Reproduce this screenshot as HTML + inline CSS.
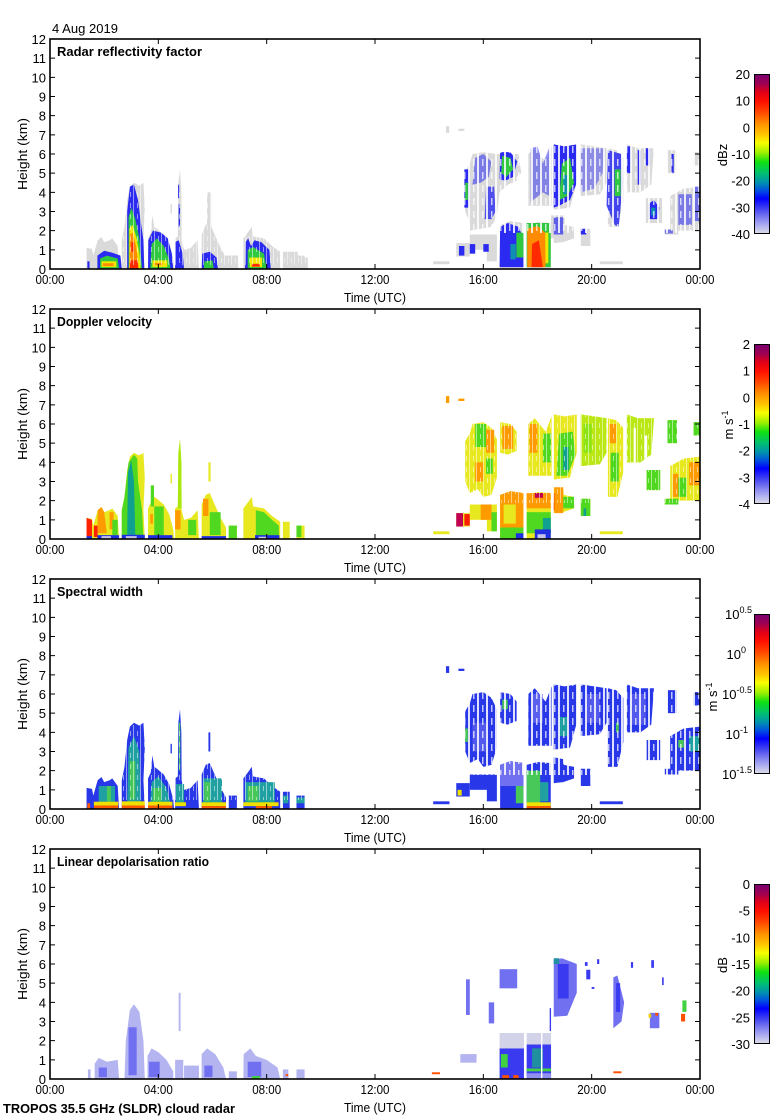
<!DOCTYPE html>
<html><head><meta charset="utf-8"><style>
html,body{margin:0;padding:0;background:#fff;}
svg{display:block;font-family:"Liberation Sans",Arial,sans-serif;}
</style></head><body>
<svg width="780" height="1120" viewBox="0 0 780 1120" xmlns="http://www.w3.org/2000/svg">
<defs>
<linearGradient id="cb" x1="0" y1="0" x2="0" y2="1">
<stop offset="0" stop-color="#7a0070"/><stop offset="0.06" stop-color="#a00050"/>
<stop offset="0.11" stop-color="#e00018"/><stop offset="0.17" stop-color="#ff1000"/>
<stop offset="0.24" stop-color="#ff4a00"/><stop offset="0.31" stop-color="#ff9000"/>
<stop offset="0.38" stop-color="#ffc800"/><stop offset="0.43" stop-color="#f8ff00"/>
<stop offset="0.49" stop-color="#a0f000"/><stop offset="0.55" stop-color="#10e010"/>
<stop offset="0.62" stop-color="#00c070"/><stop offset="0.68" stop-color="#0090b0"/>
<stop offset="0.73" stop-color="#0050e0"/><stop offset="0.78" stop-color="#0000ff"/>
<stop offset="0.85" stop-color="#4848f0"/><stop offset="0.91" stop-color="#8888f0"/>
<stop offset="0.96" stop-color="#b8b8f0"/><stop offset="1" stop-color="#dcdce6"/>
</linearGradient>
<pattern id="gaps" width="9" height="13" patternUnits="userSpaceOnUse">
<rect x="0" y="0" width="2" height="13" fill="#fff" opacity="0.85"/>
<rect x="5" y="3" width="1.5" height="7" fill="#fff" opacity="0.7"/>
</pattern>
<pattern id="gaps2" width="7" height="11" patternUnits="userSpaceOnUse">
<rect x="0" y="0" width="1" height="11" fill="#fff" opacity="0.5"/>
<rect x="4" y="5" width="1" height="5" fill="#fff" opacity="0.5"/>
</pattern>
<g id="M">
<polygon points="1.35,0 1.35,1.1 1.55,1.05 1.6,0.7 1.76,1.5 1.9,1.67 2.0,1.4 2.2,1.5 2.3,1.6 2.5,1.2 2.55,0"/>
<polygon points="2.65,0 2.65,1.5 2.75,2.2 2.85,3.6 2.95,4.3 3.1,4.5 3.3,4.35 3.45,4.5 3.5,3.2 3.45,1.5 3.5,0"/>
<polygon points="3.62,0 3.62,1.6 3.72,1.9 3.78,2.8 3.85,2.2 3.95,2.1 4.2,1.8 4.4,1.3 4.55,0.5 4.58,0"/>
<polygon points="4.62,0 4.62,1.6 4.72,1.7 4.74,4.5 4.8,5.2 4.85,4.0 4.86,1.5 4.95,1.0 5.2,1.1 5.45,1.5 5.5,0"/>
<polygon points="5.6,0 5.6,1.8 5.75,2.3 5.9,2.4 6.05,1.9 6.3,1.1 6.5,0.6 6.5,0"/>
<rect x="6.6" y="0" width="0.3" height="0.7"/>
<polygon points="7.14,0 7.14,1.6 7.3,1.9 7.45,2.2 7.5,1.7 7.9,1.6 8.2,1.2 8.5,0.9 8.5,0"/>
<rect x="8.6" y="0" width="0.25" height="0.9"/>
<rect x="9.1" y="0" width="0.3" height="0.7"/>
<rect x="5.85" y="3.0" width="0.08" height="1.0"/>
<rect x="4.45" y="2.9" width="0.05" height="0.5"/>
<rect x="14.62" y="7.1" width="0.12" height="0.35"/>
<rect x="15.08" y="7.2" width="0.22" height="0.12"/>
<polygon points="15.33,3.0 15.33,5.1 15.5,5.5 15.6,6.0 16.0,6.1 16.3,5.8 16.5,5.2 16.5,3.2 16.3,2.3 16.0,2.2 15.8,2.6 15.5,2.4"/>
<polygon points="16.62,4.5 16.62,6.1 17.0,6.0 17.23,5.6 17.23,4.6 16.9,4.4"/>
<rect x="16.13" y="0.4" width="0.37" height="1.4"/>
<polygon points="16.62,0 16.62,2.3 17.0,2.5 17.48,2.4 17.48,0"/>
<polygon points="17.6,0 17.6,2.3 18.0,2.45 18.49,2.4 18.49,0"/>
<polygon points="18.6,1.35 18.6,2.7 18.95,2.6 18.97,2.3 19.35,2.2 19.35,1.6 18.95,1.4"/>
<rect x="19.6" y="1.2" width="0.35" height="0.9"/>
<polygon points="17.66,3.3 17.66,6.0 17.9,6.3 18.3,5.6 18.52,6.4 18.52,3.3"/>
<polygon points="18.6,3.1 18.6,6.5 19.0,6.4 19.45,6.5 19.45,4.5 19.2,3.2"/>
<polygon points="19.6,3.8 19.6,6.5 20.1,6.4 20.55,6.3 20.55,4.5 20.3,3.9"/>
<polygon points="20.6,2.2 20.6,6.3 20.9,6.2 21.17,5.8 21.17,3.5 20.95,2.2"/>
<polygon points="21.3,4.0 21.3,6.5 21.7,6.3 22.3,6.3 22.2,4.4 21.8,4.0"/>
<rect x="22.03" y="2.55" width="0.5" height="1.05"/>
<rect x="22.7" y="1.8" width="0.5" height="0.3"/>
<rect x="22.8" y="5.0" width="0.35" height="1.2"/>
<polygon points="22.9,2.0 22.9,3.8 23.4,4.2 24,4.3 24,2.0"/>
<rect x="23.75" y="5.4" width="0.25" height="0.7"/>
<rect x="15.0" y="0.65" width="0.5" height="0.7"/>
<rect x="15.5" y="1.0" width="0.65" height="0.8"/>
<rect x="14.15" y="0.25" width="0.6" height="0.15"/>
<rect x="20.3" y="0.25" width="0.85" height="0.15"/>
</g>
<g id="ax" fill="none" stroke="#000" stroke-width="1">
<path d="M50,249.83h5M50,230.67h5M50,211.5h5M50,192.33h5M50,173.17h5M50,154h5M50,134.83h5M50,115.67h5M50,96.5h5M50,77.33h5M50,58.17h5
M700,249.83h-5M700,230.67h-5M700,211.5h-5M700,192.33h-5M700,173.17h-5M700,154h-5M700,134.83h-5M700,115.67h-5M700,96.5h-5M700,77.33h-5M700,58.17h-5
M158.33,269v-5M266.67,269v-5M375,269v-5M483.33,269v-5M591.67,269v-5
M158.33,39v5M266.67,39v5M375,39v5M483.33,39v5M591.67,39v5"/>
<rect x="50" y="39" width="650" height="230" stroke-width="1.6"/>
<rect x="754.5" y="74.5" width="15" height="159" fill="url(#cb)"/>
</g>
</defs>

<!-- ===== Panel 1 data ===== -->
<g transform="translate(50,269) scale(27.0833,-19.1667)">
<use href="#M" fill="#dadada"/>
<g fill="#dadada">
<rect x="5.8" y="2.2" width="0.15" height="1.8"/><rect x="6.3" y="0" width="0.65" height="0.7"/>
<rect x="8.85" y="0" width="0.3" height="0.9"/><rect x="9.4" y="0" width="0.12" height="0.6"/>
<rect x="22.0" y="2.4" width="0.6" height="1.3"/>
<polygon points="15.5,2.0 15.55,5.0 15.65,5.8 16.0,6.1 16.5,6.0 17.3,6.0 17.4,5.0 16.9,4.4 16.6,4.0 16.5,2.8 16.3,2.2 15.9,2.1"/>
<rect x="18.5" y="1.6" width="0.5" height="1.2"/>
</g>
<g fill="#2a2af0">
<rect x="1.38" y="0" width="0.08" height="0.4"/>
<polygon points="1.75,0 1.75,0.7 2.0,0.95 2.3,0.85 2.6,0.7 2.65,0"/>
<polygon points="2.85,0 2.85,3.0 2.95,4.3 3.1,4.4 3.25,3.6 3.35,2.5 3.45,1.5 3.48,0"/>
<polygon points="3.62,0 3.63,1.5 3.8,2.0 4.1,1.9 4.35,1.6 4.5,0.8 4.55,0"/>
<polygon points="4.62,0 4.62,1.4 4.75,1.5 4.9,0.8 4.95,0"/>
<rect x="4.75" y="2.2" width="0.05" height="1.2"/><rect x="4.73" y="3.7" width="0.04" height="0.7"/>
<polygon points="5.6,0 5.62,0.8 5.9,0.9 6.15,0.6 6.2,0"/>
<polygon points="7.2,0 7.22,1.4 7.32,1.6 7.42,1.2 7.55,1.5 7.8,1.4 8.1,1.0 8.15,0"/>
<rect x="15.3" y="3.2" width="0.18" height="2.0"/>
<polygon points="15.6,4.4 15.7,5.8 16.0,6.0 16.3,5.6 16.2,4.8 15.9,4.5" opacity="0.55"/>
<polygon points="16.05,2.6 16.1,4.3 16.4,4.3 16.45,3.0 16.3,2.6" opacity="0.8"/>
<polygon points="16.6,4.7 16.62,6.1 17.0,6.1 17.25,5.6 17.1,4.8 16.8,4.6"/>
<polygon points="16.6,0.1 16.62,2.2 16.9,2.4 17.3,2.2 17.48,1.6 17.48,0.1"/>
<polygon points="17.75,3.5 17.75,6.3 18.0,6.4 18.2,5.5 18.45,6.4 18.45,3.8 18.2,4.0" opacity="0.5"/>
<polygon points="18.6,3.2 18.6,6.5 19.0,6.4 19.45,6.5 19.45,4.5 19.2,3.6 18.8,3.3"/>
<polygon points="19.6,4.0 19.6,6.3 20.5,6.3 20.4,5.0 20.1,4.2" opacity="0.45"/>
<polygon points="20.55,3.3 20.6,6.2 21.1,6.0 21.15,4.5 21.0,2.2 20.85,2.3" opacity="0.85"/>
<rect x="21.3" y="5.0" width="0.15" height="1.4"/><rect x="21.7" y="4.4" width="0.12" height="1.8"/><rect x="22.0" y="5.4" width="0.15" height="0.9"/>
<polygon points="22.1,2.6 22.1,3.4 22.3,3.6 22.5,3.2 22.45,2.6"/>
<rect x="22.95" y="5.0" width="0.08" height="1.0"/>
<rect x="23.2" y="2.3" width="0.5" height="1.6" opacity="0.55"/><rect x="23.8" y="2.5" width="0.2" height="1.8" opacity="0.6"/>
<rect x="18.6" y="1.8" width="0.35" height="0.9" opacity="0.7"/><rect x="19.6" y="1.8" width="0.2" height="0.3"/><rect x="22.7" y="1.85" width="0.3" height="0.2" opacity="0.6"/>
<rect x="15.1" y="0.7" width="0.2" height="0.5"/><rect x="15.5" y="0.8" width="0.2" height="0.5"/><rect x="16.0" y="0.9" width="0.2" height="0.4"/>
</g>
<g fill="#30c840">
<polygon points="1.85,0 1.85,0.55 2.1,0.7 2.5,0.55 2.55,0"/>
<polygon points="2.9,0 2.9,2.7 3.0,3.2 3.15,2.6 3.3,1.6 3.4,0"/>
<polygon points="3.7,0 3.75,1.3 3.95,1.6 4.2,1.2 4.4,0.5 4.45,0"/>
<polygon points="5.68,0 5.7,0.4 6.0,0.45 6.05,0"/>
<polygon points="7.3,0 7.3,1.0 7.5,1.15 7.9,0.8 8.0,0"/>
<rect x="15.33" y="3.6" width="0.1" height="0.9"/>
<polygon points="16.66,5.0 16.7,5.9 17.0,5.8 17.1,5.2 16.85,4.8"/>
<rect x="17.22" y="0.6" width="0.26" height="1.3"/>
<rect x="17.6" y="0.1" width="0.89" height="2.3"/>
<polygon points="18.8,3.6 18.9,5.5 19.2,5.8 19.35,4.5 19.1,3.8"/>
<rect x="20.85" y="3.8" width="0.22" height="1.4"/>
</g>
<g fill="#1090b0"><rect x="17.0" y="0.5" width="0.2" height="0.8"/><rect x="22.2" y="2.8" width="0.15" height="0.4"/><rect x="18.95" y="3.9" width="0.15" height="1.0"/></g>
<g fill="#f0e800">
<polygon points="2.92,0 2.93,2.1 3.05,2.3 3.2,1.6 3.3,0.8 3.35,0"/>
<rect x="1.9" y="0.1" width="0.55" height="0.3"/><rect x="3.78" y="0.1" width="0.55" height="0.35"/><rect x="7.38" y="0.1" width="0.45" height="0.5"/>
<rect x="18.28" y="0.3" width="0.12" height="1.6"/>
</g>
<g fill="#ff8c00">
<polygon points="2.94,0 2.95,1.8 3.05,1.9 3.18,1.2 3.28,0"/>
<rect x="1.95" y="0.15" width="0.4" height="0.15"/><rect x="3.85" y="0.2" width="0.3" height="0.12"/>
<polygon points="17.62,0.1 17.62,2.1 18.0,2.25 18.28,1.9 18.3,0.1"/>
</g>
<g fill="#ff2a00">
<rect x="2.95" y="0" width="0.3" height="0.45"/><rect x="3.0" y="0.9" width="0.1" height="0.5"/>
<rect x="7.45" y="0.12" width="0.3" height="0.15"/>
<polygon points="17.78,0.1 17.8,1.3 18.05,1.5 18.2,0.1"/>
</g>
</g>
<rect x="462" y="143" width="238" height="90" fill="url(#gaps)"/>
<rect x="120" y="185" width="200" height="80" fill="url(#gaps2)"/>

<!-- ===== Panel 2 data ===== -->
<g transform="translate(50,539) scale(27.0833,-19.1667)">
<use href="#M" fill="#e8e820"/>
<g fill="#ff2000"><polygon points="1.35,0 1.35,1.1 1.55,1.0 1.55,0"/><rect x="1.62" y="0.1" width="0.14" height="0.6"/><rect x="15.3" y="0.7" width="0.2" height="0.6"/><rect x="18.6" y="1.5" width="0.08" height="0.9"/></g>
<g fill="#ff9a00">
<polygon points="1.76,0.3 1.76,1.5 1.9,1.67 2.0,1.4 2.1,0.3"/><rect x="2.2" y="0.5" width="0.15" height="0.9"/>
<rect x="3.7" y="0.8" width="0.1" height="0.5"/><rect x="4.62" y="0.5" width="0.2" height="1.0"/><rect x="5.65" y="1.2" width="0.2" height="0.9"/>
<rect x="14.62" y="7.1" width="0.12" height="0.35"/><rect x="15.08" y="7.2" width="0.22" height="0.12"/>
<rect x="15.7" y="3.0" width="0.3" height="1.0"/><rect x="16.1" y="4.5" width="0.3" height="1.2"/><rect x="16.7" y="4.7" width="0.4" height="1.2"/>
<polygon points="16.62,0.6 16.62,2.3 17.0,2.5 17.48,2.4 17.48,0.6"/>
<rect x="17.6" y="1.6" width="0.89" height="0.8"/><rect x="18.62" y="1.35" width="0.33" height="1.35"/>
<rect x="17.7" y="4.5" width="0.3" height="1.5"/><rect x="20.65" y="5.0" width="0.25" height="1.0"/>
<rect x="23.6" y="2.8" width="0.4" height="1.2"/><rect x="15.9" y="1.0" width="0.4" height="0.8"/>
<rect x="23.0" y="2.2" width="0.2" height="1.2"/>
</g>
<g fill="#e8e820"><rect x="16.75" y="0.8" width="0.45" height="1.0"/><polygon points="3.22,3.0 3.3,4.4 3.45,4.4 3.45,3.2"/></g>
<g fill="#50d820">
<rect x="2.3" y="0.2" width="0.2" height="0.8"/>
<polygon points="2.65,0 2.65,1.5 2.75,2.2 2.9,4.0 3.1,4.4 3.22,4.2 3.25,3.0 3.4,1.5 3.45,0"/>
<rect x="3.85" y="0.2" width="0.35" height="1.5"/><rect x="3.72" y="1.7" width="0.12" height="1.1"/>
<rect x="5.1" y="0.2" width="0.3" height="0.8"/><rect x="5.9" y="0.2" width="0.4" height="1.2"/>
<rect x="6.6" y="0" width="0.3" height="0.7"/>
<polygon points="7.6,0.15 7.6,1.5 7.9,1.4 8.2,1.0 8.45,0.7 8.45,0.15"/>
<rect x="9.1" y="0.1" width="0.18" height="0.6"/>
<rect x="15.7" y="4.8" width="0.4" height="1.2"/><rect x="16.1" y="3.4" width="0.25" height="0.8"/>
<rect x="16.3" y="0.4" width="0.2" height="1.0"/>
<rect x="16.62" y="0" width="0.86" height="0.6"/>
<rect x="17.6" y="0.3" width="0.89" height="1.1"/>
<rect x="18.95" y="1.6" width="0.4" height="0.6"/><rect x="19.6" y="1.2" width="0.35" height="0.9"/>
<rect x="18.2" y="4.0" width="0.3" height="1.5"/>
<polygon points="18.7,3.3 18.8,5.5 19.3,5.6 19.4,4.4 19.1,3.3"/>
<rect x="19.7" y="4.5" width="0.3" height="1.5"/>
<rect x="20.7" y="3.0" width="0.3" height="1.5"/>
<rect x="22.03" y="2.55" width="0.5" height="1.05"/><rect x="22.7" y="1.8" width="0.5" height="0.3"/>
<rect x="22.8" y="5.0" width="0.35" height="1.2"/><rect x="23.2" y="2.2" width="0.3" height="1.0"/><rect x="23.75" y="5.4" width="0.25" height="0.7"/>
</g>
<g fill="#a8e810">
<polygon points="4.72,1.6 4.74,4.5 4.8,5.2 4.85,4.0 4.86,1.6"/>
<polygon points="19.6,3.8 19.6,6.5 20.1,6.4 20.55,6.3 20.55,4.5 20.3,3.9" opacity="0.7"/>
<polygon points="21.3,4.0 21.3,6.5 21.7,6.3 22.3,6.3 22.2,4.4 21.8,4.0" opacity="0.7"/>
</g>
<g fill="#10a090">
<polygon points="2.85,0.2 2.88,3.5 3.0,4.1 3.1,3.0 3.15,0.2"/>
<rect x="18.2" y="0.3" width="0.29" height="0.8"/><rect x="19.7" y="1.2" width="0.1" height="0.4"/>
<rect x="18.95" y="3.6" width="0.2" height="1.2"/>
</g>
<g fill="#2030e0">
<rect x="1.35" y="0" width="0.2" height="0.15"/><rect x="1.75" y="0" width="0.8" height="0.2"/><rect x="2.65" y="0" width="0.85" height="0.22"/>
<rect x="3.62" y="0" width="0.9" height="0.2"/><rect x="5.6" y="0" width="0.9" height="0.15"/><rect x="7.57" y="0" width="0.9" height="0.2"/>
<rect x="17.2" y="0" width="0.28" height="0.3"/><rect x="17.9" y="0" width="0.59" height="0.5"/>
</g>
<g fill="#c4c4ea"><rect x="1.9" y="0" width="0.35" height="0.15"/><rect x="2.8" y="0" width="0.4" height="0.15"/><rect x="7.7" y="0" width="0.3" height="0.12"/><rect x="18.0" y="0" width="0.3" height="0.25"/></g>
<g fill="#c00050"><rect x="17.9" y="2.15" width="0.3" height="0.25"/><rect x="15.0" y="0.65" width="0.25" height="0.7"/></g>
<g fill="#ffffff"><rect x="21.55" y="4.0" width="0.08" height="1.8"/><rect x="21.95" y="4.2" width="0.1" height="1.2"/></g>
</g>
<rect x="462" y="413" width="238" height="90" fill="url(#gaps2)"/>

<!-- ===== Panel 3 data ===== -->
<g transform="translate(50,809) scale(27.0833,-19.1667)">
<use href="#M" fill="#2838e8"/>
<g fill="#20a0a0">
<rect x="1.8" y="0.3" width="0.6" height="0.9"/>
<polygon points="2.85,0.3 2.9,3.2 3.1,3.8 3.3,3.0 3.35,0.3"/>
<polygon points="3.7,0.3 3.75,1.4 4.0,1.7 4.3,1.1 4.45,0.3"/>
<rect x="4.65" y="0.3" width="0.3" height="1.0"/><rect x="5.65" y="0.3" width="0.7" height="1.3"/>
<rect x="7.2" y="0.3" width="1.1" height="1.1"/><rect x="8.6" y="0.3" width="0.2" height="0.4"/><rect x="9.1" y="0.3" width="0.3" height="0.3"/>
<rect x="18.1" y="0.4" width="0.3" height="1.0"/><rect x="18.8" y="3.8" width="0.3" height="1.0"/><rect x="23.6" y="3.0" width="0.4" height="0.8"/>
</g>
<g fill="#48c858">
<rect x="2.1" y="0.4" width="0.15" height="0.8"/><rect x="2.95" y="0.5" width="0.2" height="2.0"/>
<rect x="3.8" y="0.4" width="0.3" height="0.7"/><rect x="4.76" y="2.0" width="0.05" height="2.5"/>
<rect x="5.7" y="0.4" width="0.2" height="1.0"/><rect x="7.3" y="0.4" width="0.4" height="0.8"/>
<rect x="15.33" y="3.5" width="0.1" height="0.7"/><rect x="16.7" y="5.2" width="0.2" height="0.5"/>
<rect x="17.2" y="0.3" width="0.28" height="1.0"/><rect x="17.6" y="0.1" width="0.5" height="1.9"/>
<rect x="20.9" y="4.0" width="0.1" height="0.5"/><rect x="23.2" y="3.2" width="0.2" height="0.4"/>
</g>
<g fill="#7070f0">
<polygon points="16.62,1.2 16.62,2.3 17.0,2.5 17.48,2.4 17.48,1.2"/>
<rect x="17.8" y="4.5" width="0.4" height="1.5" opacity="0.7"/><rect x="19.8" y="4.5" width="0.5" height="1.5" opacity="0.6"/>
<rect x="15.6" y="3.0" width="0.5" height="1.5" opacity="0.6"/><rect x="21.4" y="4.4" width="0.6" height="1.6" opacity="0.6"/>
</g>
<g fill="#f0e000">
<rect x="1.62" y="0.18" width="0.9" height="0.2"/><rect x="2.65" y="0.18" width="0.85" height="0.22"/><rect x="3.62" y="0.18" width="0.9" height="0.2"/>
<rect x="4.62" y="0.15" width="0.4" height="0.2"/><rect x="5.6" y="0.15" width="0.9" height="0.2"/><rect x="7.14" y="0.15" width="1.3" height="0.2"/>
<rect x="17.6" y="0.15" width="0.89" height="0.2"/><rect x="15.05" y="0.7" width="0.15" height="0.3"/>
</g>
<g fill="#ff5a00">
<rect x="1.62" y="0" width="0.9" height="0.18"/><rect x="2.65" y="0" width="0.85" height="0.18"/><rect x="3.62" y="0" width="0.9" height="0.18"/>
<rect x="5.6" y="0" width="0.9" height="0.15"/><rect x="7.6" y="0" width="0.6" height="0.15"/><rect x="17.6" y="0" width="0.89" height="0.15"/>
<rect x="1.38" y="0" width="0.1" height="0.3"/>
</g>
</g>
<rect x="462" y="683" width="238" height="92" fill="url(#gaps)"/>
<rect x="120" y="725" width="200" height="75" fill="url(#gaps2)"/>

<!-- ===== Panel 4 data ===== -->
<g transform="translate(50,1079) scale(27.0833,-19.1667)">
<g fill="#b4b4f0">
<rect x="1.4" y="0" width="0.1" height="0.5"/>
<polygon points="1.65,0 1.65,0.8 1.8,1.1 2.1,0.9 2.5,1.0 2.55,0"/>
<polygon points="2.75,0 2.8,2.0 2.95,3.6 3.1,3.9 3.3,3.5 3.45,2.0 3.5,0"/>
<polygon points="3.6,0 3.6,1.2 3.75,1.6 4.0,1.4 4.3,1.0 4.55,0.4 4.55,0"/>
<rect x="4.75" y="2.5" width="0.07" height="2.0"/><rect x="4.62" y="0" width="0.3" height="1.0"/>
<rect x="4.95" y="0" width="0.55" height="0.7"/>
<polygon points="5.6,0 5.6,1.3 5.8,1.6 6.1,1.3 6.4,0.6 6.5,0"/>
<rect x="6.6" y="0" width="0.3" height="0.4"/>
<polygon points="7.14,0 7.15,1.3 7.4,1.6 7.6,1.2 8.0,1.0 8.4,0.6 8.5,0"/>
<rect x="8.6" y="0" width="0.2" height="0.5"/><rect x="9.1" y="0" width="0.3" height="0.5"/>
<rect x="15.15" y="0.85" width="0.6" height="0.45"/>
</g>
<g fill="#7070f0">
<rect x="2.9" y="0.2" width="0.3" height="2.5"/><rect x="3.65" y="0.1" width="0.4" height="0.8"/><rect x="7.3" y="0.1" width="0.5" height="0.8"/>
<rect x="1.8" y="0.1" width="0.3" height="0.5"/><rect x="5.7" y="0.1" width="0.3" height="0.6"/>
<rect x="15.36" y="3.34" width="0.14" height="1.86"/><rect x="16.2" y="2.9" width="0.2" height="1.1"/>
<rect x="16.6" y="4.73" width="0.65" height="1.0"/>
<polygon points="18.6,3.25 18.6,6.2 18.9,6.3 19.45,6.0 19.45,4.5 19.1,3.3"/>
<polygon points="20.8,2.65 20.8,5.3 20.95,5.4 21.2,4.0 21.1,3.0"/>
<rect x="22.15" y="2.65" width="0.35" height="0.8"/>
</g>
<g fill="#3a3af0">
<rect x="16.6" y="0" width="0.9" height="1.6"/><rect x="17.6" y="0" width="0.9" height="1.8"/>
<rect x="18.75" y="4.2" width="0.4" height="1.8"/><rect x="19.8" y="5.2" width="0.15" height="0.5"/>
<rect x="20.9" y="3.5" width="0.15" height="1.5"/>
<rect x="19.75" y="5.9" width="0.1" height="0.2"/><rect x="20.2" y="6.0" width="0.08" height="0.25"/><rect x="21.45" y="5.8" width="0.08" height="0.3"/>
<rect x="22.2" y="5.8" width="0.1" height="0.4"/><rect x="22.6" y="4.9" width="0.06" height="0.4"/><rect x="20.0" y="4.7" width="0.1" height="0.1"/>
<rect x="18.45" y="2.5" width="0.05" height="1.2"/>
</g>
<g fill="#d2d2e8"><rect x="16.6" y="1.6" width="0.9" height="0.8"/><rect x="17.6" y="1.8" width="0.9" height="0.6"/></g>
<g fill="#2090a0"><rect x="17.8" y="0.6" width="0.4" height="1.0"/><rect x="18.6" y="6.0" width="0.2" height="0.3"/></g>
<g fill="#9090f0"><rect x="17.6" y="0" width="0.9" height="0.3"/></g>
<g fill="#40d040"><rect x="16.65" y="0.6" width="0.25" height="0.7"/><rect x="17.6" y="0.4" width="0.9" height="0.15"/><rect x="7.45" y="0" width="0.3" height="0.15"/><rect x="23.35" y="3.5" width="0.15" height="0.6"/></g>
<g fill="#ff5000"><rect x="16.7" y="0.05" width="0.25" height="0.15"/><rect x="17.1" y="0.05" width="0.2" height="0.15"/><rect x="14.1" y="0.25" width="0.3" height="0.1"/><rect x="20.8" y="0.3" width="0.3" height="0.1"/><rect x="23.3" y="3.0" width="0.15" height="0.4"/><rect x="22.35" y="3.3" width="0.1" height="0.15"/><rect x="8.7" y="0.15" width="0.1" height="0.1"/></g>
<g fill="#f0d000"><rect x="22.1" y="3.2" width="0.1" height="0.2"/></g>
<g fill="#ffffff"><rect x="18.13" y="0" width="0.05" height="2.4"/></g>
</g>

<!-- ===== Axes ===== -->
<use href="#ax"/>
<use href="#ax" transform="translate(0,270)"/>
<use href="#ax" transform="translate(0,540)"/>
<use href="#ax" transform="translate(0,810)"/>

<text x="52" y="33" font-size="12.5" textLength="66" lengthAdjust="spacingAndGlyphs">4 Aug 2019</text>

<g font-size="13" fill="#000">
<!-- Panel 1 labels -->
<g>
<text x="57" y="56" font-weight="bold" font-size="12.5" textLength="145" lengthAdjust="spacingAndGlyphs">Radar reflectivity factor</text>
<g text-anchor="end">
<text x="46" y="274">0</text><text x="46" y="254.8">1</text><text x="46" y="235.7">2</text><text x="46" y="216.5">3</text><text x="46" y="197.3">4</text><text x="46" y="178.2">5</text><text x="46" y="159">6</text><text x="46" y="139.8">7</text><text x="46" y="120.7">8</text><text x="46" y="101.5">9</text><text x="46" y="82.3">10</text><text x="46" y="63.2">11</text><text x="46" y="44">12</text>
</g>
<g text-anchor="middle">
<text x="50" y="284" textLength="29" lengthAdjust="spacingAndGlyphs">00:00</text><text x="158.3" y="284" textLength="29" lengthAdjust="spacingAndGlyphs">04:00</text><text x="266.7" y="284" textLength="29" lengthAdjust="spacingAndGlyphs">08:00</text><text x="375" y="284" textLength="29" lengthAdjust="spacingAndGlyphs">12:00</text><text x="483.3" y="284" textLength="29" lengthAdjust="spacingAndGlyphs">16:00</text><text x="591.7" y="284" textLength="29" lengthAdjust="spacingAndGlyphs">20:00</text><text x="700" y="284" textLength="29" lengthAdjust="spacingAndGlyphs">00:00</text>
<text x="375" y="302" textLength="62" lengthAdjust="spacingAndGlyphs">Time (UTC)</text>
<text transform="translate(27,154) rotate(-90)" textLength="72" lengthAdjust="spacingAndGlyphs">Height (km)</text>
<text transform="translate(727,155) rotate(-90)">dBz</text>
</g>
<g text-anchor="end">
<text x="750" y="79">20</text><text x="750" y="105.7">10</text><text x="750" y="132.3">0</text><text x="750" y="159">-10</text><text x="750" y="185.7">-20</text><text x="750" y="212.3">-30</text><text x="750" y="239">-40</text>
</g>
</g>
<!-- Panel 2 labels -->
<g transform="translate(0,270)">
<text x="57" y="56" font-weight="bold" font-size="12.5" textLength="95" lengthAdjust="spacingAndGlyphs">Doppler velocity</text>
<g text-anchor="end">
<text x="46" y="274">0</text><text x="46" y="254.8">1</text><text x="46" y="235.7">2</text><text x="46" y="216.5">3</text><text x="46" y="197.3">4</text><text x="46" y="178.2">5</text><text x="46" y="159">6</text><text x="46" y="139.8">7</text><text x="46" y="120.7">8</text><text x="46" y="101.5">9</text><text x="46" y="82.3">10</text><text x="46" y="63.2">11</text><text x="46" y="44">12</text>
</g>
<g text-anchor="middle">
<text x="50" y="284" textLength="29" lengthAdjust="spacingAndGlyphs">00:00</text><text x="158.3" y="284" textLength="29" lengthAdjust="spacingAndGlyphs">04:00</text><text x="266.7" y="284" textLength="29" lengthAdjust="spacingAndGlyphs">08:00</text><text x="375" y="284" textLength="29" lengthAdjust="spacingAndGlyphs">12:00</text><text x="483.3" y="284" textLength="29" lengthAdjust="spacingAndGlyphs">16:00</text><text x="591.7" y="284" textLength="29" lengthAdjust="spacingAndGlyphs">20:00</text><text x="700" y="284" textLength="29" lengthAdjust="spacingAndGlyphs">00:00</text>
<text x="375" y="302" textLength="62" lengthAdjust="spacingAndGlyphs">Time (UTC)</text>
<text transform="translate(27,154) rotate(-90)" textLength="72" lengthAdjust="spacingAndGlyphs">Height (km)</text>
<text transform="translate(733,155) rotate(-90)">m s<tspan dy="-5" font-size="9">-1</tspan></text>
</g>
<g text-anchor="end">
<text x="750" y="79">2</text><text x="750" y="105.7">1</text><text x="750" y="132.3">0</text><text x="750" y="159">-1</text><text x="750" y="185.7">-2</text><text x="750" y="212.3">-3</text><text x="750" y="239">-4</text>
</g>
</g>
<!-- Panel 3 labels -->
<g transform="translate(0,540)">
<text x="57" y="56" font-weight="bold" font-size="12.5" textLength="86" lengthAdjust="spacingAndGlyphs">Spectral width</text>
<g text-anchor="end">
<text x="46" y="274">0</text><text x="46" y="254.8">1</text><text x="46" y="235.7">2</text><text x="46" y="216.5">3</text><text x="46" y="197.3">4</text><text x="46" y="178.2">5</text><text x="46" y="159">6</text><text x="46" y="139.8">7</text><text x="46" y="120.7">8</text><text x="46" y="101.5">9</text><text x="46" y="82.3">10</text><text x="46" y="63.2">11</text><text x="46" y="44">12</text>
</g>
<g text-anchor="middle">
<text x="50" y="284" textLength="29" lengthAdjust="spacingAndGlyphs">00:00</text><text x="158.3" y="284" textLength="29" lengthAdjust="spacingAndGlyphs">04:00</text><text x="266.7" y="284" textLength="29" lengthAdjust="spacingAndGlyphs">08:00</text><text x="375" y="284" textLength="29" lengthAdjust="spacingAndGlyphs">12:00</text><text x="483.3" y="284" textLength="29" lengthAdjust="spacingAndGlyphs">16:00</text><text x="591.7" y="284" textLength="29" lengthAdjust="spacingAndGlyphs">20:00</text><text x="700" y="284" textLength="29" lengthAdjust="spacingAndGlyphs">00:00</text>
<text x="375" y="302" textLength="62" lengthAdjust="spacingAndGlyphs">Time (UTC)</text>
<text transform="translate(27,154) rotate(-90)" textLength="72" lengthAdjust="spacingAndGlyphs">Height (km)</text>
<text transform="translate(717,157) rotate(-90)">m s<tspan dy="-5" font-size="9">-1</tspan></text>
</g>
<g text-anchor="end">
<text x="752" y="79">10<tspan dy="-6" font-size="9">0.5</tspan></text>
<text x="746" y="119">10<tspan dy="-6" font-size="9">0</tspan></text>
<text x="752" y="159">10<tspan dy="-6" font-size="9">-0.5</tspan></text>
<text x="748" y="199">10<tspan dy="-6" font-size="9">-1</tspan></text>
<text x="752" y="239">10<tspan dy="-6" font-size="9">-1.5</tspan></text>
</g>
</g>
<!-- Panel 4 labels -->
<g transform="translate(0,810)">
<text x="57" y="56" font-weight="bold" font-size="12.5" textLength="152" lengthAdjust="spacingAndGlyphs">Linear depolarisation ratio</text>
<g text-anchor="end">
<text x="46" y="274">0</text><text x="46" y="254.8">1</text><text x="46" y="235.7">2</text><text x="46" y="216.5">3</text><text x="46" y="197.3">4</text><text x="46" y="178.2">5</text><text x="46" y="159">6</text><text x="46" y="139.8">7</text><text x="46" y="120.7">8</text><text x="46" y="101.5">9</text><text x="46" y="82.3">10</text><text x="46" y="63.2">11</text><text x="46" y="44">12</text>
</g>
<g text-anchor="middle">
<text x="50" y="284" textLength="29" lengthAdjust="spacingAndGlyphs">00:00</text><text x="158.3" y="284" textLength="29" lengthAdjust="spacingAndGlyphs">04:00</text><text x="266.7" y="284" textLength="29" lengthAdjust="spacingAndGlyphs">08:00</text><text x="375" y="284" textLength="29" lengthAdjust="spacingAndGlyphs">12:00</text><text x="483.3" y="284" textLength="29" lengthAdjust="spacingAndGlyphs">16:00</text><text x="591.7" y="284" textLength="29" lengthAdjust="spacingAndGlyphs">20:00</text><text x="700" y="284" textLength="29" lengthAdjust="spacingAndGlyphs">00:00</text>
<text x="375" y="302" textLength="62" lengthAdjust="spacingAndGlyphs">Time (UTC)</text>
<text transform="translate(27,154) rotate(-90)" textLength="72" lengthAdjust="spacingAndGlyphs">Height (km)</text>
<text transform="translate(727,155) rotate(-90)">dB</text>
</g>
<g text-anchor="end">
<text x="750" y="79">0</text><text x="750" y="105.7">-5</text><text x="750" y="132.3">-10</text><text x="750" y="159">-15</text><text x="750" y="185.7">-20</text><text x="750" y="212.3">-25</text><text x="750" y="239">-30</text>
</g>
</g>
<text x="3" y="1113" font-weight="bold" font-size="12.5" textLength="232" lengthAdjust="spacingAndGlyphs">TROPOS 35.5 GHz (SLDR) cloud radar</text>
</g>
</svg>
</body></html>
